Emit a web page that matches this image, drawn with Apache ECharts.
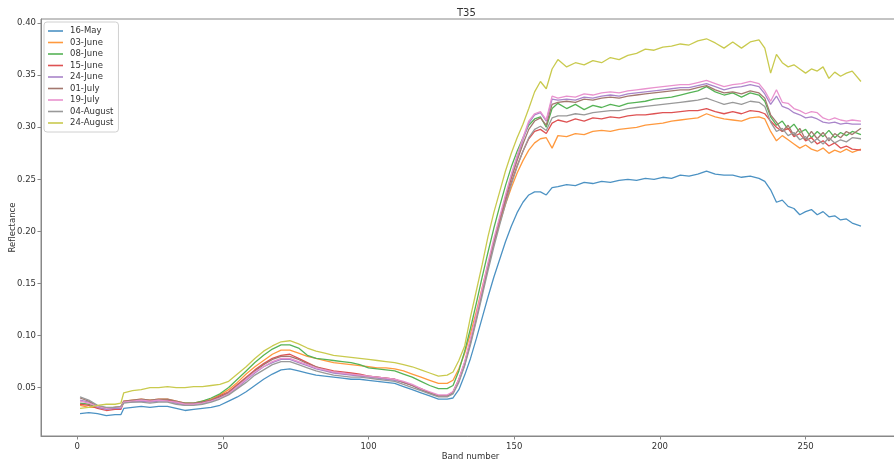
<!DOCTYPE html>
<html>
<head>
<meta charset="utf-8">
<script src="https://cdn.jsdelivr.net/npm/echarts@6/dist/echarts.min.js"></script>
<style>
html,body{margin:0;padding:0;background:#fff;}
#chart{width:894px;height:464px;}
</style>
</head>
<body>
<div id="chart"></div>
<script>
const bands = [1,4,7,10,13,15,16, 19,22,25,28,31,34,37,40,43,46,49,
  52,55,58,61,64,67,70,73,76,79,82,85,88,91,94,97,100,103,106,109,112,115,118,121,124,127,
  129,131,133,135,137,139,141,143,145,147,149,151,153,155,157,159,161,163,165,
  168,171,174,177,180,183,186,189,192,195,198,201,204,207,210,213,216,219,222,225,228,231,234,
  236,238,240,242,244,246,248,250,252,254,256,258,260,262,264,266,269];

const may16 = [0.025,0.026,0.025,0.023,0.024,0.024,0.030,
  0.031,0.032,0.031,0.032,0.032,0.030,0.028,0.029,0.030,0.031,0.033,
  0.037,0.041,0.046,0.052,0.058,0.063,0.067,0.068,0.066,0.064,0.062,0.061,0.060,0.059,0.058,0.058,0.057,0.056,0.055,0.054,0.051,0.048,0.045,0.042,0.039,0.039,
  0.040,0.048,0.062,0.078,0.097,0.117,0.137,0.156,0.173,0.190,0.205,0.218,0.228,0.235,0.238,0.238,0.235,0.242,0.243,
  0.245,0.244,0.247,0.246,0.248,0.247,0.249,0.250,0.249,0.251,0.250,0.252,0.251,0.254,0.253,0.255,0.258,0.255,0.254,0.254,0.252,0.253,0.251,
  0.248,0.240,0.228,0.230,0.224,0.222,0.216,0.219,0.221,0.216,0.219,0.214,0.215,0.211,0.212,0.208,0.205];

const jun03 = [0.033,0.031,0.031,0.030,0.031,0.032,0.037,
  0.038,0.039,0.038,0.039,0.039,0.037,0.035,0.035,0.037,0.039,0.043,
  0.048,0.055,0.063,0.070,0.076,0.082,0.086,0.086,0.083,0.080,0.078,0.076,0.074,0.073,0.072,0.071,0.070,0.069,0.069,0.068,0.066,0.063,0.060,0.057,0.054,0.054,
  0.057,0.068,0.083,0.102,0.123,0.146,0.168,0.189,0.208,0.226,0.242,0.256,0.268,0.278,0.285,0.289,0.290,0.280,0.292,
  0.291,0.294,0.293,0.296,0.297,0.296,0.298,0.299,0.300,0.302,0.303,0.304,0.306,0.307,0.308,0.309,0.313,0.310,0.308,0.307,0.306,0.309,0.310,
  0.308,0.296,0.287,0.292,0.288,0.284,0.280,0.283,0.279,0.277,0.280,0.275,0.278,0.276,0.279,0.276,0.279];

const jun08 = [0.035,0.034,0.031,0.030,0.031,0.031,0.036,
  0.037,0.038,0.037,0.038,0.038,0.036,0.035,0.035,0.037,0.040,0.044,
  0.050,0.058,0.066,0.074,0.081,0.087,0.091,0.091,0.088,0.081,0.078,0.077,0.076,0.075,0.074,0.072,0.069,0.068,0.067,0.066,0.063,0.060,0.056,0.052,0.049,0.049,
  0.052,0.066,0.085,0.107,0.131,0.156,0.180,0.203,0.224,0.244,0.262,0.277,0.290,0.302,0.308,0.310,0.300,0.318,0.323,
  0.318,0.322,0.317,0.321,0.319,0.322,0.320,0.323,0.324,0.325,0.327,0.328,0.329,0.331,0.333,0.335,0.339,0.334,0.331,0.333,0.329,0.333,0.331,
  0.325,0.310,0.302,0.306,0.298,0.303,0.295,0.298,0.290,0.296,0.291,0.297,0.290,0.295,0.292,0.296,0.293];

const jun15 = [0.034,0.033,0.030,0.028,0.029,0.029,0.036,
  0.037,0.038,0.037,0.038,0.038,0.036,0.034,0.034,0.036,0.038,0.042,
  0.046,0.053,0.060,0.067,0.073,0.078,0.081,0.082,0.078,0.074,0.070,0.068,0.066,0.065,0.064,0.063,0.061,0.060,0.059,0.058,0.055,0.052,0.049,0.045,0.042,0.042,
  0.046,0.058,0.074,0.095,0.118,0.142,0.166,0.189,0.210,0.229,0.247,0.263,0.277,0.289,0.296,0.298,0.294,0.304,0.307,
  0.305,0.308,0.306,0.309,0.308,0.310,0.309,0.311,0.312,0.312,0.313,0.314,0.314,0.315,0.316,0.316,0.318,0.315,0.313,0.315,0.313,0.316,0.315,
  0.313,0.306,0.300,0.296,0.299,0.291,0.294,0.287,0.290,0.284,0.287,0.282,0.285,0.280,0.282,0.279,0.278];

const jun24 = [0.038,0.036,0.031,0.029,0.030,0.030,0.036,
  0.036,0.037,0.036,0.037,0.037,0.035,0.033,0.034,0.035,0.037,0.040,
  0.044,0.050,0.057,0.064,0.070,0.074,0.077,0.077,0.074,0.071,0.068,0.066,0.064,0.063,0.062,0.061,0.060,0.059,0.058,0.057,0.055,0.052,0.048,0.045,0.042,0.042,
  0.045,0.056,0.072,0.093,0.116,0.141,0.166,0.190,0.212,0.233,0.253,0.271,0.288,0.304,0.312,0.314,0.306,0.327,0.326,
  0.327,0.326,0.329,0.328,0.330,0.331,0.330,0.332,0.333,0.334,0.335,0.336,0.337,0.338,0.338,0.340,0.342,0.339,0.336,0.338,0.339,0.341,0.339,
  0.332,0.322,0.330,0.320,0.318,0.314,0.312,0.309,0.310,0.308,0.305,0.304,0.305,0.303,0.304,0.303,0.303];

const jul01 = [0.040,0.037,0.032,0.030,0.031,0.031,0.037,
  0.038,0.039,0.038,0.039,0.039,0.037,0.035,0.035,0.036,0.038,0.041,
  0.045,0.052,0.059,0.066,0.072,0.077,0.080,0.080,0.077,0.073,0.070,0.067,0.065,0.064,0.063,0.062,0.061,0.060,0.059,0.058,0.055,0.052,0.048,0.045,0.042,0.042,
  0.045,0.057,0.073,0.094,0.117,0.142,0.167,0.190,0.212,0.232,0.251,0.268,0.284,0.298,0.306,0.309,0.302,0.322,0.324,
  0.325,0.324,0.327,0.326,0.328,0.329,0.328,0.330,0.331,0.332,0.333,0.334,0.335,0.336,0.336,0.338,0.340,0.336,0.333,0.334,0.332,0.335,0.333,
  0.328,0.312,0.305,0.296,0.302,0.292,0.299,0.288,0.296,0.289,0.295,0.287,0.294,0.290,0.296,0.293,0.299];

const jul19 = [0.037,0.035,0.032,0.030,0.031,0.031,0.036,
  0.037,0.038,0.037,0.038,0.037,0.036,0.034,0.034,0.035,0.037,0.040,
  0.044,0.051,0.058,0.065,0.070,0.075,0.078,0.078,0.075,0.072,0.069,0.067,0.065,0.064,0.063,0.062,0.061,0.060,0.059,0.058,0.056,0.053,0.049,0.046,0.043,0.043,
  0.046,0.058,0.075,0.097,0.120,0.145,0.170,0.193,0.214,0.235,0.255,0.273,0.290,0.306,0.313,0.315,0.307,0.330,0.328,
  0.330,0.329,0.332,0.331,0.333,0.334,0.333,0.335,0.336,0.337,0.338,0.339,0.340,0.341,0.341,0.343,0.345,0.342,0.339,0.341,0.342,0.344,0.342,
  0.335,0.325,0.336,0.324,0.323,0.318,0.316,0.313,0.315,0.314,0.309,0.307,0.309,0.307,0.306,0.307,0.306];

const aug04 = [0.041,0.038,0.033,0.031,0.031,0.032,0.035,
  0.036,0.036,0.035,0.036,0.036,0.034,0.033,0.033,0.034,0.036,0.039,
  0.043,0.049,0.055,0.062,0.067,0.072,0.075,0.075,0.072,0.069,0.066,0.064,0.062,0.061,0.060,0.060,0.059,0.058,0.057,0.056,0.053,0.050,0.047,0.044,0.041,0.041,
  0.044,0.055,0.071,0.091,0.114,0.138,0.162,0.185,0.206,0.226,0.245,0.262,0.277,0.290,0.298,0.301,0.297,0.309,0.311,
  0.311,0.313,0.312,0.314,0.315,0.316,0.316,0.318,0.319,0.320,0.321,0.322,0.323,0.324,0.325,0.326,0.328,0.325,0.322,0.324,0.322,0.325,0.324,
  0.320,0.305,0.296,0.299,0.292,0.295,0.288,0.291,0.285,0.289,0.284,0.290,0.285,0.288,0.286,0.290,0.289];

const aug24 = [0.030,0.031,0.033,0.034,0.034,0.035,0.045,
  0.047,0.048,0.050,0.050,0.051,0.050,0.050,0.051,0.051,0.052,0.053,
  0.056,0.063,0.070,0.078,0.085,0.090,0.094,0.095,0.092,0.088,0.085,0.083,0.081,0.080,0.079,0.078,0.077,0.076,0.075,0.074,0.072,0.070,0.067,0.064,0.061,0.062,
  0.065,0.076,0.090,0.118,0.143,0.168,0.195,0.218,0.238,0.258,0.275,0.290,0.303,0.318,0.334,0.344,0.337,0.356,0.365,
  0.358,0.362,0.360,0.364,0.362,0.367,0.365,0.369,0.371,0.375,0.374,0.377,0.378,0.380,0.379,0.383,0.385,0.381,0.376,0.382,0.376,0.382,0.384,
  0.376,0.352,0.370,0.362,0.358,0.360,0.356,0.352,0.356,0.354,0.358,0.347,0.353,0.349,0.352,0.354,0.344];

const seriesNames = ['16-May','03-June','08-June','15-June','24-June','01-July','19-July','04-August','24-August'];
const seriesValues = [may16, jun03, jun08, jun15, jun24, jul01, jul19, aug04, aug24];
const colors = ['#4c92c3','#ff993e','#56b356','#de5253','#a985ca','#a3786f','#e992ce','#999999','#c9ca4e'];
const xTicks = [0,50,100,150,200,250];
const yTicks = [0.05,0.10,0.15,0.20,0.25,0.30,0.35,0.40];

const font = 'DejaVu Sans';
const chart = echarts.init(document.getElementById('chart'), null, {renderer:'canvas'});
chart.setOption({
  animation: false,
  backgroundColor: '#fff',
  color: colors,
  title: {
    text: 'T35', left: 452, top: 3,
    textStyle: {fontFamily: font, fontSize: 10, fontWeight: 'normal', color: '#333'}
  },
  legend: {
    data: seriesNames,
    orient: 'vertical',
    left: 44, top: 22,
    padding: [4, 5, 4, 4],
    itemWidth: 15, itemHeight: 1.6, itemGap: 1.5,
    icon: 'rect',
    backgroundColor: '#fff',
    borderColor: '#d0d0d0', borderWidth: 1, borderRadius: 3,
    textStyle: {fontFamily: font, fontSize: 8.5, color: '#333', lineHeight: 10, padding: [0,0,0,2]}
  },
  grid: {
    left: 41, top: 19, width: 859, height: 417,
    show: true, borderColor: '#888', borderWidth: 1,
    containLabel: false, outerBoundsMode: 'none'
  },
  xAxis: {
    type: 'value', min: -12.4, max: 282.4,
    name: 'Band number', nameLocation: 'middle', nameGap: 16, nameMoveOverlap: false,
    nameTextStyle: {fontFamily: font, fontSize: 8.5, color: '#333'},
    axisLine: {show: true, onZero: false, lineStyle: {color: '#888'}},
    axisTick: {show: true, length: 3.5, inside: false, customValues: xTicks, lineStyle: {color: '#888'}},
    axisLabel: {customValues: xTicks, fontFamily: font, fontSize: 8.5, color: '#333', margin: 6},
    splitLine: {show: false}
  },
  yAxis: {
    type: 'value', min: 0.0035, max: 0.404,
    name: 'Reflectance', nameLocation: 'middle', nameGap: 24, nameRotate: 90, nameMoveOverlap: false,
    nameTextStyle: {fontFamily: font, fontSize: 8.5, color: '#333'},
    axisLine: {show: true, onZero: false, lineStyle: {color: '#888'}},
    axisTick: {show: true, length: 3.5, customValues: yTicks, lineStyle: {color: '#888'}},
    axisLabel: {customValues: yTicks, fontFamily: font, fontSize: 8.5, color: '#333', margin: 5,
      formatter: v => v.toFixed(2)},
    splitLine: {show: false}
  },
  series: seriesNames.map((n, i) => ({
    name: n, type: 'line', showSymbol: false, symbol: 'none',
    lineStyle: {width: 1.3, color: colors[i]},
    itemStyle: {color: colors[i]},
    data: bands.map((b, j) => [b, seriesValues[i][j]])
  }))
});
</script>
</body>
</html>
